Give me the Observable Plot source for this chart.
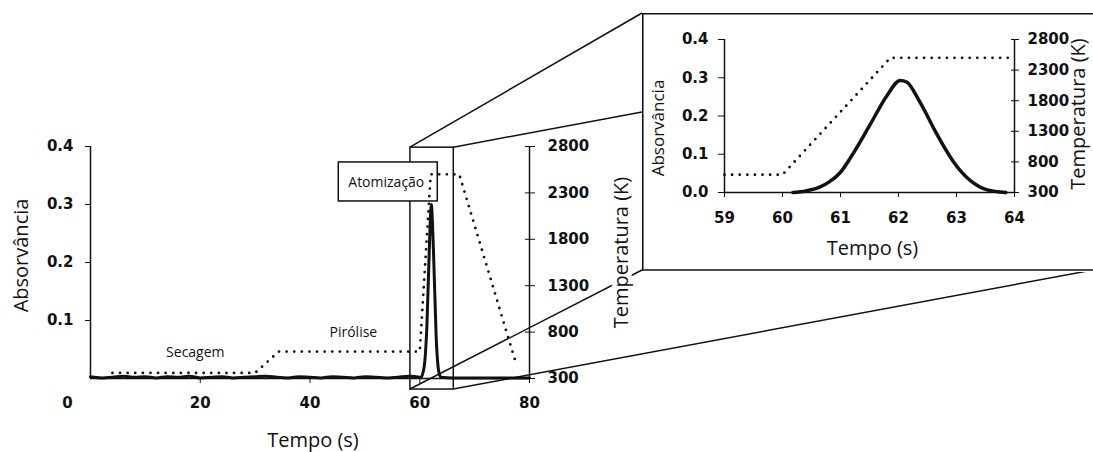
<!DOCTYPE html>
<html>
<head>
<meta charset="utf-8">
<script src="https://cdn.jsdelivr.net/npm/d3@7"></script>
<script src="https://cdn.jsdelivr.net/npm/@observablehq/plot@0.6"></script>
<style>
  html, body { margin: 0; padding: 0; background: #fff; overflow: hidden; }
  #root { position: relative; width: 1093px; height: 452px; overflow: hidden; }
  #main { position: absolute; left: 0; top: 0; width: 1093px; }
  #inset { position: absolute; left: 642px; top: 13px; width: 451px; }
</style>
</head>
<body>
<div id="root"><div id="main"></div><div id="inset"></div></div>
<script>
// ---------------- DATA ----------------
// main chart: tick values
const mainAbsTicks = [0.1, 0.2, 0.3, 0.4];
const mainTimeTicks = [20, 40, 60, 80];
const tempTicks = [300, 800, 1300, 1800, 2300, 2800];
// inset chart: tick values
const insetAbsTicks = [0, 0.1, 0.2, 0.3, 0.4];
const insetTimeTicks = [59, 60, 61, 62, 63, 64];

// main absorbance signal (s, absorbance)
const mainAbsTime  = [0, 2, 4, 6, 8, 10, 12, 14, 16, 18, 20, 22, 24, 26, 28, 30, 32, 34, 36, 38, 40, 42, 44, 46, 48, 50, 52, 54, 56, 58, 59.3, 60.2, 60.8, 61.3, 61.8, 62.1, 62.5, 63.0, 63.5, 63.9, 66, 68, 70, 72, 74, 76, 78, 80];
const mainAbsValue = [0.003, 0.001, 0.002, 0.004, 0.002, 0.003, 0.001, 0.003, 0.002, 0.004, 0.001, 0.002, 0.003, 0.001, 0.002, 0.003, 0.004, 0.002, 0.001, 0.003, 0.002, 0.001, 0.003, 0.002, 0.001, 0.003, 0.002, 0.001, 0.002, 0.004, 0.003, 0.002, 0.02, 0.09, 0.24, 0.30, 0.22, 0.07, 0.01, 0.002, 0.001, 0.001, 0.001, 0.001, 0.001, 0.001, 0.001, 0.001];

// main temperature programme (s, K)
const mainTempTime  = [4, 30, 34.3, 60.0, 62.0, 67.2, 77.3];
const mainTempValue = [360, 360, 590, 590, 2500, 2500, 510];

// inset: atomization detail (s, absorbance)
const insetAbsTime  = [60.18, 60.4, 60.64, 60.8, 61.0, 61.23, 61.52, 61.8, 62.03, 62.14, 62.37, 62.66, 62.95, 63.24, 63.53, 63.85];
const insetAbsValue = [0, 0.004, 0.014, 0.027, 0.053, 0.105, 0.18, 0.253, 0.293, 0.289, 0.236, 0.153, 0.08, 0.031, 0.007, 0];
// inset temperature (s, K)
const insetTempTime  = [59, 60, 61.86, 64];
const insetTempValue = [590, 590, 2500, 2500];

// stage annotations (anchored in data space)
const stageLabels = ["Secagem", "Pirólise", "Atomização"];
const stageTime   = [19.1, 47.9, 53.9];
const stageAbs    = [0.045, 0.079, 0.338];

// zoom window marked on the main chart
const zoomTime = [58.3, 66.2];
const zoomAbs  = [-0.019, 0.398];

// ---------------- HELPERS ----------------
const INK = "#111";
const TICK_FONT = "'DejaVu Sans', sans-serif";
const TITLE_FONT = "'Open Sans', sans-serif";
const T0 = 300, T1 = 2800, A1 = 0.4;
const toAbs = T => (T - T0) / (T1 - T0) * A1;           // temperature -> shared y scale
const fromAbs = a => String(Math.round(a / A1 * (T1 - T0) + T0));
const zip = (ts, vs) => ts.map((t, i) => ({t, v: vs[i]}));

const mainAbs = zip(mainAbsTime, mainAbsValue);
const mainTemp = zip(mainTempTime, mainTempValue);
const insetAbs = zip(insetAbsTime, insetAbsValue);
const insetTemp = zip(insetTempTime, insetTempValue);
const stages = stageLabels.map((s, i) => ({s, t: stageTime[i], a: stageAbs[i]}));

// layout of the inset on the page
const INSET = {left: 642, top: 13, width: 451, height: 259};

function pickScales(args) {
  for (const a of args) if (a && typeof a.x === "function" && typeof a.y === "function") return a;
  return args[1];
}

const dotted = {stroke: INK, strokeWidth: 2.8, strokeDasharray: "0 7.6", strokeLinecap: "round", curve: "linear"};
const titleOpts = {fontFamily: TITLE_FONT, fontWeight: "normal", fill: INK, textAnchor: "middle", lineAnchor: "middle"};

// ---------------- MAIN CHART ----------------
function connectors(...args) {
  const s = pickScales(args);
  const xa = s.x(zoomTime[0]), xb = s.x(zoomTime[1]);
  const ya = s.y(zoomAbs[1]), yb = s.y(zoomAbs[0]);
  const L = INSET.left, Tp = INSET.top, B = INSET.top + INSET.height - 2, R = 1093;
  const segs = [
    [xa, ya, L, Tp],
    [xb, ya, L, 112],
    [xa, yb, L, B],
    [xb, yb, R, B]
  ];
  const g = d3.create("svg:g").attr("fill", "none").attr("stroke", INK).attr("stroke-width", 1.5);
  for (const [x1, y1, x2, y2] of segs) g.append("line").attr("x1", x1).attr("y1", y1).attr("x2", x2).attr("y2", y2);
  return g.node();
}

function stageBox(...args) {
  const s = pickScales(args);
  const cx = s.x(stageTime[2]) + 2, cy = s.y(stageAbs[2]) - 0.5;
  const w = 99, h = 39;
  return d3.create("svg:rect")
    .attr("x", cx - w / 2).attr("y", cy - h / 2).attr("width", w).attr("height", h)
    .attr("fill", "#fff").attr("stroke", INK).attr("stroke-width", 1.5).node();
}

const main = Plot.plot({
  width: 1093,
  height: 452,
  marginLeft: 90,
  marginRight: 564,
  marginTop: 146,
  marginBottom: 74,
  style: {fontFamily: TICK_FONT, fontSize: "15px", fontWeight: "bold", color: INK, background: "#fff"},
  x: {domain: [0, 80], label: null},
  y: {domain: [0, 0.4], label: null},
  marks: [
    connectors,
    Plot.rect([{x1: zoomTime[0], x2: zoomTime[1], y1: zoomAbs[0], y2: zoomAbs[1]}],
      {x1: "x1", x2: "x2", y1: "y1", y2: "y2", fill: "none", stroke: INK, strokeWidth: 1.5}),
    stageBox,
    Plot.line(mainAbs, {x: "t", y: "v", stroke: INK, strokeWidth: 3, curve: "monotone-x"}),
    Plot.line(mainTemp, {x: "t", y: d => toAbs(d.v), ...dotted}),
    Plot.text(stages, {x: "t", y: "a", text: "s", fontSize: 14, ...titleOpts}),
    // axis lines
    Plot.ruleX([0], {stroke: INK, strokeWidth: 1.5}),
    Plot.ruleX([80], {stroke: INK, strokeWidth: 1.5}),
    Plot.ruleY([0], {stroke: INK, strokeWidth: 1.5}),
    // axes
    Plot.axisY(mainAbsTicks, {anchor: "left", tickSize: 5, tickPadding: 12, tickFormat: d3.format(".1f"), label: null, stroke: INK, fill: INK}),
    Plot.axisX(mainTimeTicks, {anchor: "bottom", tickSize: 5, tickPadding: 14, tickFormat: d3.format("d"), label: null, stroke: INK, fill: INK}),
    Plot.axisX([0], {anchor: "bottom", tickSize: 0, tickPadding: 19, dx: -23, tickFormat: d3.format("d"), label: null, fill: INK}),
    Plot.axisY(tempTicks.map(toAbs), {anchor: "right", tickSize: 10, dx: -5, tickFormat: () => "", label: null, stroke: INK}),
    Plot.axisY(tempTicks.map(toAbs), {anchor: "right", tickSize: 0, tickPadding: 18, tickFormat: fromAbs, label: null, fill: INK}),
    // titles
    Plot.text(["Absorvância"], {frameAnchor: "left", dx: -69, dy: -7, rotate: -90, fontSize: 20, ...titleOpts}),
    Plot.text(["Temperatura (K)"], {frameAnchor: "right", dx: 92, dy: -10, rotate: -90, fontSize: 20, stroke: "#fff", strokeWidth: 10, ...titleOpts}),
    Plot.text(["Tempo (s)"], {frameAnchor: "bottom", dx: 3, dy: 62, fontSize: 20, ...titleOpts})
  ]
});
document.getElementById("main").append(main);

// ---------------- INSET CHART ----------------
function insetBorder(...args) {
  const h = INSET.height;
  return d3.create("svg:path")
    .attr("d", `M${INSET.width + 20},0.75H0.75V${h - 2}H${INSET.width + 20}`)
    .attr("fill", "none").attr("stroke", INK).attr("stroke-width", 1.6).node();
}

const inset = Plot.plot({
  width: INSET.width,
  height: INSET.height,
  marginLeft: 82,
  marginRight: 79,
  marginTop: 26,
  marginBottom: 80,
  style: {fontFamily: TICK_FONT, fontSize: "15px", fontWeight: "bold", color: INK, background: "#fff", overflow: "visible"},
  x: {domain: [59, 64], label: null},
  y: {domain: [0, 0.4], label: null},
  marks: [
    insetBorder,
    Plot.line(insetTemp, {x: "t", y: d => toAbs(d.v), ...dotted}),
    Plot.line(insetAbs, {x: "t", y: "v", stroke: INK, strokeWidth: 3.5, curve: "monotone-x"}),
    Plot.ruleX([59], {stroke: INK, strokeWidth: 1.5}),
    Plot.ruleX([64], {stroke: INK, strokeWidth: 1.5}),
    Plot.ruleY([0], {stroke: INK, strokeWidth: 1.5}),
    Plot.axisY(insetAbsTicks, {anchor: "left", tickSize: 6, tickPadding: 10, tickFormat: d3.format(".1f"), label: null, stroke: INK, fill: INK}),
    Plot.axisX(insetTimeTicks, {anchor: "bottom", tickSize: 5, tickPadding: 15, tickFormat: d3.format("d"), label: null, stroke: INK, fill: INK}),
    Plot.axisY(tempTicks.map(toAbs), {anchor: "right", tickSize: 8, dx: -4, tickFormat: () => "", label: null, stroke: INK}),
    Plot.axisY(tempTicks.map(toAbs), {anchor: "right", tickSize: 0, tickPadding: 13, tickFormat: fromAbs, label: null, fill: INK}),
    Plot.text(["Absorvância"], {frameAnchor: "left", dx: -66, dy: 12, rotate: -90, fontSize: 17, ...titleOpts}),
    Plot.text(["Temperatura (K)"], {frameAnchor: "right", dx: 64, dy: -2, rotate: -90, fontSize: 20, ...titleOpts}),
    Plot.text(["Tempo (s)"], {frameAnchor: "bottom", dx: 3, dy: 56, fontSize: 20, ...titleOpts})
  ]
});
document.getElementById("inset").append(inset);
</script>
</body>
</html>
